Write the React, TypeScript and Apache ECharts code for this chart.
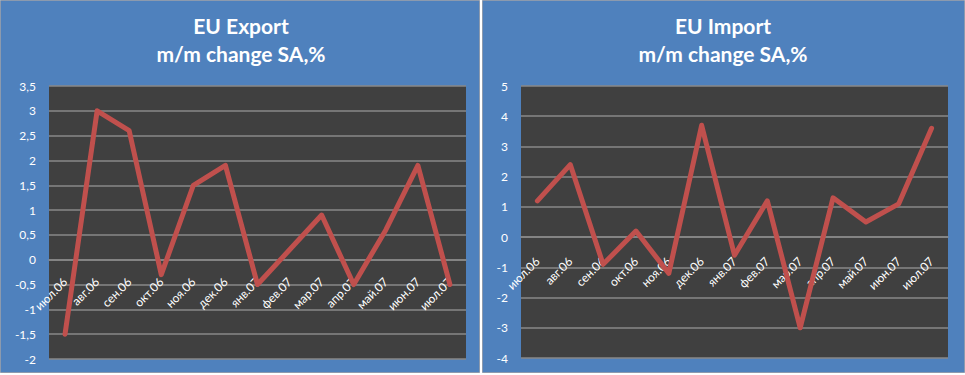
import React, { useEffect, useRef } from 'react';
import * as echarts from 'echarts';

const categories = ['июл.06', 'авг.06', 'сен.06', 'окт.06', 'ноя.06', 'дек.06', 'янв.07', 'фев.07', 'мар.07', 'апр.07', 'май.07', 'июн.07', 'июл.07'];
const exportValues = [-1.5, 3.0, 2.6, -0.3, 1.5, 1.9, -0.5, 0.2, 0.9, -0.5, 0.6, 1.9, -0.5];
const importValues = [1.2, 2.4, -0.9, 0.2, -1.2, 3.7, -0.6, 1.2, -3.0, 1.3, 0.5, 1.1, 3.6];
const exportTicks = { min: -2, max: 3.5, interval: 0.5 };
const importTicks = { min: -4, max: 5, interval: 1 };
const exportTitle = 'EU Export\nm/m change SA,%';
const importTitle = 'EU Import\nm/m change SA,%';

const PANEL = '#4F81BD';
const PLOT = '#404040';
const GRIDLINE = '#898989';
const LINE = '#C0504D';
const FONT = 'Lato, "Noto Sans", sans-serif';

const GRIDS = [
  { left: 49, top: 86, width: 417, height: 273 },
  { left: 521, top: 86, width: 427, height: 272 },
];
const LABEL_MARGINS = [20, 22];

export default function App() {
  const ref = useRef<HTMLDivElement>(null);
  useEffect(() => {
    document.body.style.margin = '0';
    const chart = echarts.init(ref.current!, null, { renderer: 'svg' });
    const fmt = (v: number) => String(v).replace('.', ',');
    const yAxisBase = (gridIndex: number, t: { min: number; max: number; interval: number }) => ({
      type: 'value',
      gridIndex,
      min: t.min,
      max: t.max,
      interval: t.interval,
      axisLine: { show: false },
      axisTick: { show: false },
      splitLine: { show: true, lineStyle: { color: GRIDLINE, width: 1.5 } },
      axisLabel: { color: '#FFFFFF', fontSize: 12, fontFamily: FONT, margin: 13, formatter: fmt },
    });
    const xAxisBase = (gridIndex: number, t: { min: number; max: number }) => ({
      type: 'category',
      gridIndex,
      data: categories,
      boundaryGap: true,
      position: 'bottom',
      offset: -GRIDS[gridIndex].height * (0 - t.min) / (t.max - t.min),
      axisLine: { show: true, onZero: false, lineStyle: { color: GRIDLINE, width: 1.5 } },
      axisTick: { show: false },
      splitLine: { show: false },
      axisLabel: { color: '#FFFFFF', fontSize: 12, fontFamily: FONT, rotate: 45, margin: LABEL_MARGINS[gridIndex], interval: 0 },
    });
    const seriesBase = (idx: number, data: number[]) => ({
      type: 'line',
      xAxisIndex: idx,
      yAxisIndex: idx,
      data,
      symbol: 'none',
      lineStyle: { color: LINE, width: 5, cap: 'round', join: 'round' },
      z: 5,
    });
    chart.setOption({
      animation: false,
      backgroundColor: '#FFFFFF',
      graphic: [
        { type: 'rect', z: -10, shape: { x: 0.5, y: 0.5, width: 479, height: 372 }, style: { fill: PANEL, stroke: '#8C9AAE', lineWidth: 1 } },
        { type: 'rect', z: -10, shape: { x: 482.5, y: 0.5, width: 482, height: 372 }, style: { fill: PANEL, stroke: '#8C9AAE', lineWidth: 1 } },
        { type: 'text', x: 241, y: 11, style: { text: exportTitle, fill: '#FFFFFF', font: 'bold 21px ' + FONT, textAlign: 'center', lineHeight: 28 } },
        { type: 'text', x: 723, y: 11, style: { text: importTitle, fill: '#FFFFFF', font: 'bold 21px ' + FONT, textAlign: 'center', lineHeight: 28 } },
      ],
      grid: GRIDS.map((g) => ({ ...g, show: true, backgroundColor: PLOT, borderWidth: 0, containLabel: false, outerBoundsMode: 'none' })),
      xAxis: [xAxisBase(0, exportTicks), xAxisBase(1, importTicks)],
      yAxis: [yAxisBase(0, exportTicks), yAxisBase(1, importTicks)],
      series: [seriesBase(0, exportValues), seriesBase(1, importValues)],
    });
    return () => chart.dispose();
  }, []);
  return <div ref={ref} style={{ width: 965, height: 375 }} />;
}
